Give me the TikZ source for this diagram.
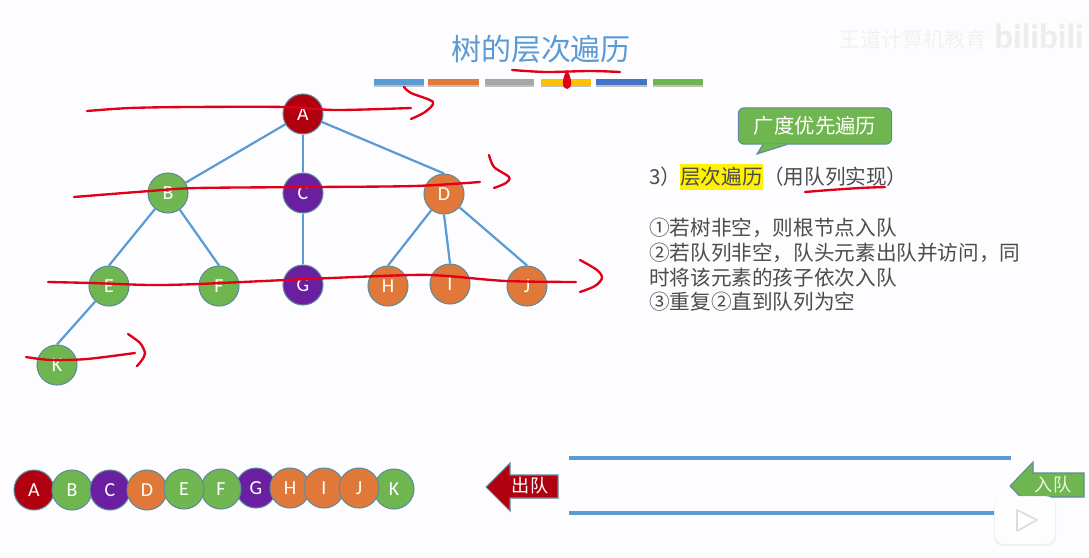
\documentclass[tikz,border=0pt]{standalone}
\usepackage{fontspec}
\usepackage{xcolor}
\usepackage{tikz}
\setmainfont{Carlito}
\newfontfamily\cjk{Noto Sans CJK SC}
\usetikzlibrary{arrows.meta, positioning, calc}
\definecolor{paper}{HTML}{FDFDFF}
\definecolor{sky}{HTML}{5B9BD5}
\definecolor{wine}{HTML}{B00010}
\definecolor{leaf}{HTML}{70B650}
\definecolor{grape}{HTML}{6A1FA0}
\definecolor{carrot}{HTML}{E0783A}
\definecolor{rim}{HTML}{5F8A9B}
\definecolor{ink}{HTML}{E00018}
\definecolor{amber}{HTML}{FFC000}
\definecolor{navy}{HTML}{4472C4}
\tikzset{
  vertex/.style={circle, draw=rim, line width=0.9pt, fill=#1, text=white, minimum size=1.2cm, inner sep=0pt, font=\fontsize{17}{17}\selectfont},
  edge/.style={draw=sky, line width=1.9pt},
  redink/.style={draw=ink, line width=2pt, line cap=round, line join=round},
  body/.style={anchor=west, inner sep=0pt, text=black!70, font=\cjk\fontsize{17.6}{20}\selectfont},
  rail/.style={draw=sky, line width=2.9pt},
  flag/.style={draw=rim, line width=0.9pt, fill=#1}
}

\begin{document}
\begin{tikzpicture}[x=0.03cm, y=-0.03cm]
  \useasboundingbox (0,0) rectangle (1089,557);
  \fill[paper] (0,0) rectangle (1089,557);

  % heading and colour bars
  \node[text=sky, inner sep=0pt, font=\cjk\fontsize{25.6}{28}\selectfont] (title) at (541,49) {树的层次遍历};
  \node[text=black!5, inner sep=0pt, font=\cjk\fontsize{18}{20}\selectfont] (mark) at (913,39) {王道计算机教育};
  \node[text=black!7, inner sep=0pt, font=\bfseries\fontsize{30}{30}\selectfont] (site) at (1039,36) {bilibili};
  \foreach \xa/\xb/\barcol in {374/424/sky, 428/479/carrot, 485/534/black!35, 541/591/amber, 596/647/navy, 653/703/leaf} {
    \fill[black!25] (\xa,81) rectangle (\xb,87);
    \fill[\barcol] (\xa,79) rectangle (\xb,85);
  }

  % tree
  \node[vertex=wine] (A) at (303,114) {A};
  \node[vertex=leaf] (B) at (168,193) {B};
  \node[vertex=grape] (C) at (303,193) {C};
  \node[vertex=carrot] (D) at (444,194) {D};
  \node[vertex=leaf] (E) at (109,286) {E};
  \node[vertex=leaf] (F) at (219,286) {F};
  \node[vertex=grape] (G) at (303,285) {G};
  \node[vertex=carrot] (H) at (388,286) {H};
  \node[vertex=carrot] (I) at (450,284) {I};
  \node[vertex=carrot] (J) at (527,286) {J};
  \node[vertex=leaf] (K) at (57,365) {K};
  \draw[edge] (A) -- (B);
  \draw[edge] (A) -- (C);
  \draw[edge] (A) -- (D.north);
  \draw[edge] (B) -- (E.north);
  \draw[edge] (B) -- (F.north);
  \draw[edge] (C) -- (G);
  \draw[edge] (D) -- (H.north);
  \draw[edge] (D.south) -- (I.north);
  \draw[edge] (D) -- (J.north);
  \draw[edge] (E) -- (K.north);

  % callout and text
  \node[draw=rim, line width=0.9pt, fill=leaf, rounded corners=5pt, text=white, minimum width=4.6cm, minimum height=1.09cm, inner sep=0pt, font=\cjk\fontsize{17.4}{20}\selectfont] (bfs) at (815,126) {广度优先遍历};
  \fill[leaf] (763,143.5) -- (757,154) -- (787,144.5) -- cycle;
  \draw[rim, line width=0.9pt] (763,144.5) -- (757,154) -- (787,144.5);

  \node[body] (three) at (649,177) {3）};
  \node[body, fill=yellow, minimum height=0.78cm, anchor=west] (level) at (680,177) {层次遍历};
  \node[body, right=0pt of level] (queue) {（用队列实现）};
  \node[body] (ruleA) at (649,228) {①若树非空，则根节点入队};
  \node[body] (ruleB) at (649,253) {②若队列非空，队头元素出队并访问，同};
  \node[body] (ruleC) at (649,278) {时将该元素的孩子依次入队};
  \node[body] (ruleD) at (649,302) {③重复②直到队列为空};

  % visiting order
  \node[vertex=wine] (qA) at (34,490) {A};
  \node[vertex=leaf] (qB) at (72,490) {B};
  \node[vertex=grape] (qC) at (110,490) {C};
  \node[vertex=carrot] (qD) at (147,490) {D};
  \node[vertex=grape] (qG) at (256,488) {G};
  \node[vertex=leaf] (qF) at (221,489) {F};
  \node[vertex=leaf] (qE) at (184,489) {E};
  \node[vertex=carrot] (qH) at (290,488) {H};
  \node[vertex=carrot] (qI) at (324,488) {I};
  \node[vertex=leaf] (qK) at (394,489) {K};
  \node[vertex=carrot] (qJ) at (359,488) {J};

  % queue rails and arrows
  \draw[rail] (569,458) -- (1011,458);
  \draw[rail] (569,513) -- (1011,513);
  \draw[flag=wine] (486,487) -- (510,463) -- (510,475) -- (558,475) -- (558,498) -- (510,498) -- (510,511) -- cycle;
  \node[text=white, inner sep=0pt, font=\cjk\fontsize{15.5}{18}\selectfont] (out) at (530,486) {出队};
  \draw[flag=leaf] (1010,486) -- (1033,462) -- (1033,473) -- (1084,473) -- (1084,497) -- (1033,497) -- (1033,510) -- cycle;
  \node[text=white!85!leaf, inner sep=0pt, font=\cjk\fontsize{15.5}{18}\selectfont] (in) at (1053,485) {入队};

  % player badge
  \fill[black!6, rounded corners=8pt] (994,497) rectangle (1056,546);
  \fill[white, opacity=0.88, rounded corners=8pt] (995,496) rectangle (1055,544);
  \draw[black!14, fill=white, line width=1.4pt, line join=round] (1017,510) -- (1037,520) -- (1017,531) -- cycle;

  % pen strokes
  \draw[redink] plot[smooth] coordinates {(512,70) (546,72) (590,71) (620,72)};
  \fill[ink] (567,70) .. controls (572,78) and (573,89) .. (567,89) .. controls (561,89) and (562,78) .. (567,70);
  \draw[redink] plot[smooth] coordinates {(87,111) (130,108) (190,107) (285,107) (336,110) (411,108)};
  \draw[redink] plot[smooth] coordinates {(404,87) (411,93) (433,102) (425,112) (411,119)};
  \draw[redink] plot[smooth] coordinates {(74,197) (150,191) (198,188) (316,187) (415,186) (480,182)};
  \draw[redink] plot[smooth] coordinates {(489,155) (494,167) (509,177) (506,183) (494,188)};
  \draw[redink] plot[smooth] coordinates {(48,282) (91,283) (150,285) (198,284) (308,279) (411,275) (447,276) (506,281) (576,282)};
  \draw[redink] plot[smooth] coordinates {(580,260) (597,270) (602,278) (595,286) (580,292)};
  \draw[redink] plot[smooth] coordinates {(26,357) (51,360) (87,359) (135,353)};
  \draw[redink] plot[smooth] coordinates {(128,334) (140,343) (145,353) (142,360) (137,366)};
  \draw[redink] plot[smooth] coordinates {(805,192) (830,190) (860,188) (885,187)};
\end{tikzpicture}
\end{document}
